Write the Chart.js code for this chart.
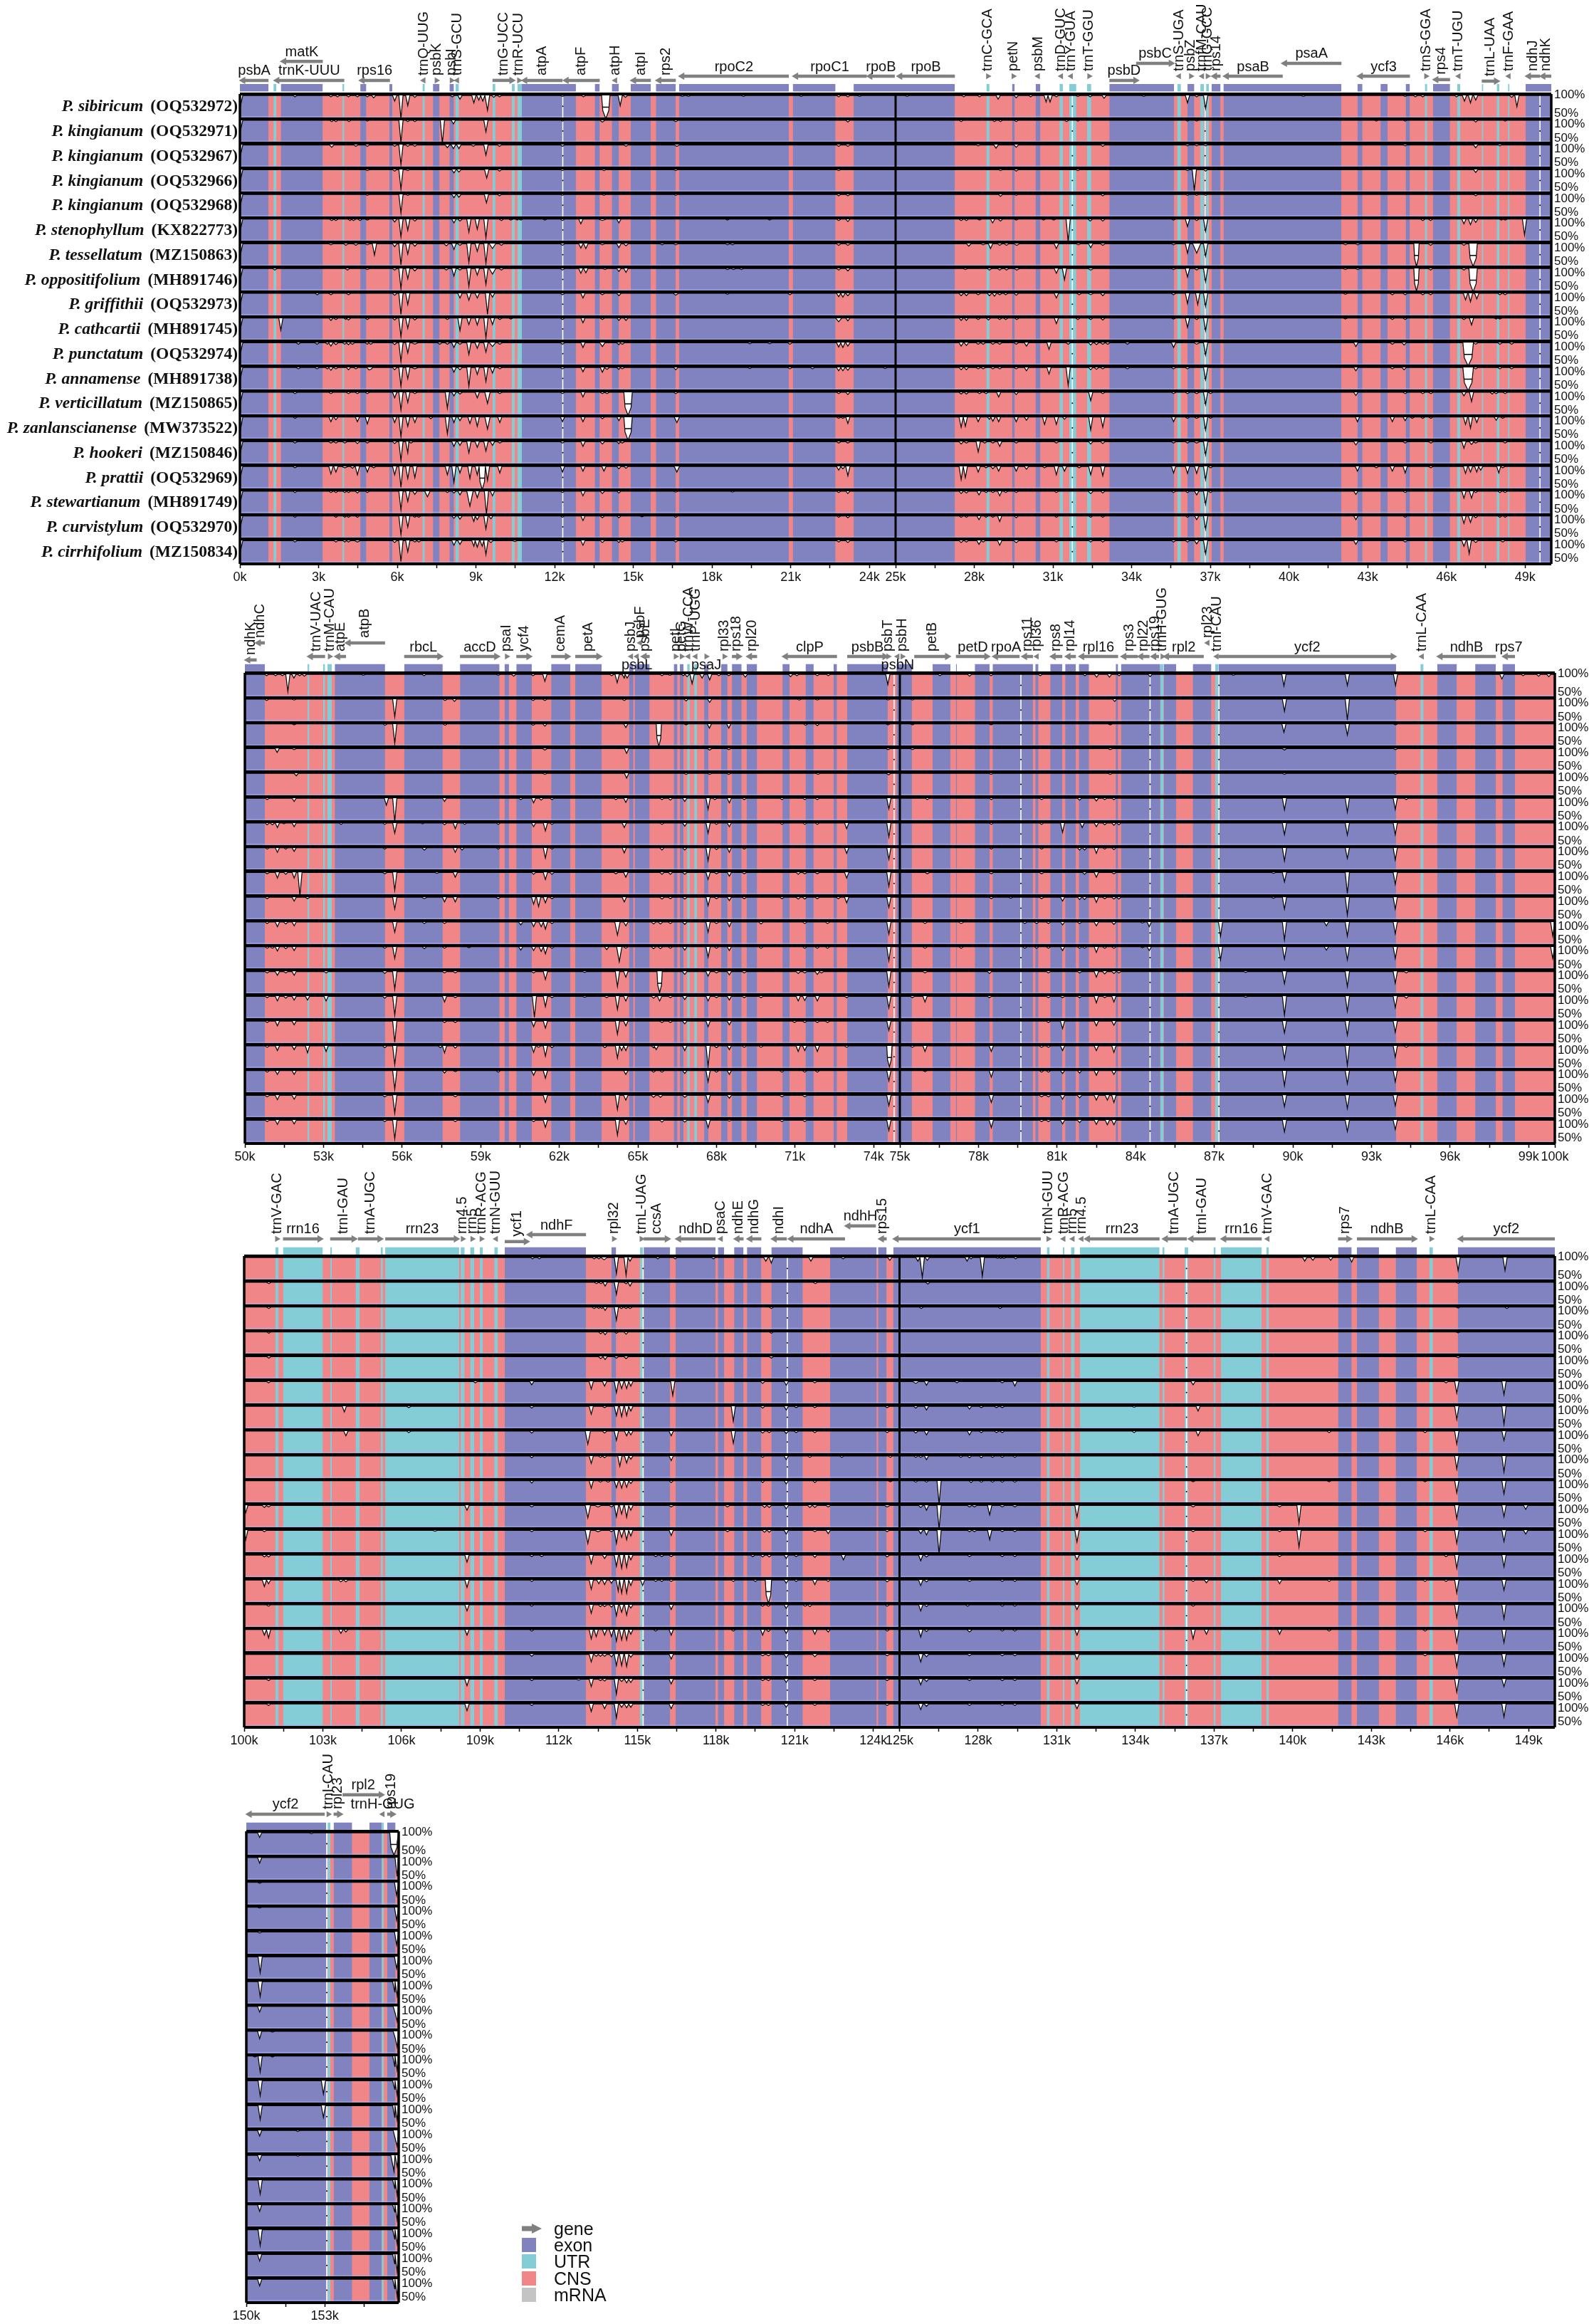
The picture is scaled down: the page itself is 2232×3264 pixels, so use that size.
<!DOCTYPE html>
<html>
<head>
<meta charset="utf-8">
<title>mVISTA plastome identity plot</title>
<script src="https://cdn.jsdelivr.net/npm/chart.js@4/dist/chart.umd.min.js"></script>
<style>
  html, body { margin: 0; padding: 0; background: #fff; }
  #page { position: relative; width: 2232px; height: 3264px; overflow: hidden; }
  canvas { position: absolute; left: 0; }
  .lg { position: absolute; left: 778px; font: 25px "Liberation Sans", sans-serif; color: #111; line-height: 24px; }
  .sw { position: absolute; left: 733px; width: 20px; height: 20px; }
</style>
</head>
<body>
<div id="page"></div>
<script>
// all x values are in kb, identity values in %
const species = ["P. sibiricum","P. kingianum","P. kingianum","P. kingianum","P. kingianum","P. stenophyllum","P. tessellatum","P. oppositifolium","P. griffithii","P. cathcartii","P. punctatum","P. annamense","P. verticillatum","P. zanlanscianense","P. hookeri","P. prattii","P. stewartianum","P. curvistylum","P. cirrhifolium"];
const accessions = ["OQ532972","OQ532971","OQ532967","OQ532966","OQ532968","KX822773","MZ150863","MH891746","OQ532973","MH891745","OQ532974","MH891738","MZ150865","MW373522","MZ150846","OQ532969","MH891749","OQ532970","MZ150834"];

const legendItems = ["exon","UTR","CNS","mRNA"];

// ---- panel 1, 0-50k
const ticks1 = [0,3,6,9,12,15,18,21,24,25,28,31,34,37,40,43,46,49];
const minor1 = [1.5,4.5,7.5,10.5,13.5,16.5,19.5,22.5,26.5,29.5,32.5,35.5,38.5,41.5,44.5,47.5];
const exons1 = [[0,1.09],[1.56,3.16],[4.59,4.82],[5.7,5.81],[7.36,7.61],[7.99,8.16],[10.75,12.81],[13.53,13.72],[14.18,14.45],[14.9,15.67],[15.86,16.62],[16.74,20.93],[21.08,22.71],[23.4,27.26],[29.44,29.54],[30.34,30.52],[33.15,35.62],[36.13,36.39],[37.05,37.39],[37.5,42],[42.61,42.8],[43.49,43.76],[44.45,44.61],[45.49,46.14],[49.02,50]];
const utrs1 = [[1.28,1.39],[3.91,3.98],[6.96,7.05],[8.22,8.35],[9.63,9.74],[10.37,10.48],[10.58,10.75],[28.46,28.58],[31.25,31.38],[31.62,31.89],[32.3,32.46],[35.74,35.88],[36.62,36.76],[36.84,36.95],[45.18,45.27],[46.41,46.53],[47.35,47.41],[47.92,48.02],[48.35,48.41]];
const gaps1 = [12.31,31.74,36.8,49.57];
const dips1 = [
 [[0.03,80],[2.1,97],[3.47,97],[3.72,97],[4.14,97],[4.48,97],[4.86,97],[5.1,95],[5.9,88],[6.14,50],[6.4,78],[6.67,96],[8.1,97],[8.39,92],[8.92,84],[9.11,90],[9.26,88],[9.44,68],[9.68,96],[9.9,97],[12.3,98],[13.1,97],[13.95,50,0.16],[14.5,78],[14.7,96],[16.87,98],[17.1,98],[19.2,98],[21.4,98],[22.83,97],[23.18,97],[23.63,98],[25.44,98],[27.6,97],[28.2,97],[28.91,92],[29.6,95],[30.15,97],[30.74,86],[30.89,86],[31.13,97],[31.95,98],[32.42,97],[32.95,94],[34.46,98],[36.13,84],[36.48,97],[36.82,72],[40.55,98],[44.43,98],[44.82,97],[45.1,97],[46.39,97],[46.69,88],[46.92,84],[47.12,90],[48.49,96],[48.69,76]],
 [[0.03,80],[3.5,97],[3.66,97],[4.16,97],[4.86,98],[6.14,52],[6.4,97],[6.67,97],[7.72,50],[8.14,92],[9.38,75],[12.3,98],[13.82,96,0.1],[16.62,97,0.1],[23.18,96],[27.5,97],[28.77,97],[29,97],[29.6,97],[31.52,97],[31.95,98],[36.13,98],[36.48,98],[43.33,98],[44.43,98],[47.12,96],[48.24,98]],
 [[0.03,80],[3.5,95],[4.42,97],[4.86,97],[5.9,97],[6.14,58],[6.4,97],[6.67,97],[7.91,94],[8.14,92],[8.35,92],[8.9,97],[9.38,78],[9.9,97],[12.3,97],[14.72,97],[16.66,97,0.1],[22.83,97],[23.18,97],[28.15,98],[28.83,93],[29.6,95],[32.9,97],[36.13,98],[36.48,98],[36.82,98],[44.43,98],[47.12,94],[48.04,98]],
 [[0.03,80],[4.86,98],[5.9,97],[6.14,58],[6.4,98],[8.16,93],[8.35,95],[9.41,82],[9.9,97],[12.3,98],[13.88,98],[16.62,98],[22.83,98],[29,98],[29.6,97],[31.95,98],[36.13,98],[36.39,55],[36.82,97],[47.12,94]],
 [[0.03,80],[4.86,98],[6.14,60],[6.4,98],[8.16,93],[8.35,94],[9.4,82],[9.9,97],[12.3,98],[13.88,98],[16.62,98],[22.83,97],[23.18,97],[29,96],[29.6,98],[32.9,97],[36.13,98],[36.48,98],[36.82,98],[47.12,97]],
 [[0.03,80],[3.5,97],[3.66,97],[4.2,97],[4.33,97],[4.58,97],[4.86,98],[5.9,94],[6.14,62],[6.4,76],[6.67,96],[8.16,92],[8.39,96],[8.73,72],[9.05,78],[9.38,60],[9.97,97],[10.33,98],[10.58,98],[10.71,98],[11.63,98],[12.3,97],[13,90],[13.82,97,0.15],[14.45,92],[18.59,98],[20.2,98],[22.83,97],[23.18,95],[27.5,97],[27.7,97],[28.2,98],[28.7,92],[29,96],[29.6,98],[30.64,98],[31.03,98],[31.58,52],[32.42,96],[32.9,96],[35.6,98],[36.13,84],[36.48,97],[36.82,74],[45.1,97],[45.4,97],[46.67,90],[46.92,88],[47.12,93],[48.1,98],[48.24,98],[48.98,66]],
 [[0.03,80],[3.47,98],[4.04,97],[4.42,97],[4.86,98],[5.13,76],[5.9,94],[6.14,55],[6.4,78],[6.67,95],[7.87,96],[8.16,88],[8.39,97],[8.73,60],[9.05,84],[9.38,58],[9.63,90,0.12],[9.97,97],[12.3,97],[13,91],[13.19,90],[13.82,98],[14.45,92],[14.72,96],[16.1,98],[16.62,98],[18.59,98],[18.78,98],[22.83,97],[23.18,97],[27.79,95],[28.34,98],[28.62,90],[28.97,97],[29.23,97],[29.62,97,0.1],[31.13,90],[31.97,98],[32.44,92],[32.9,97],[35.6,98],[36.13,80],[36.48,80,0.15],[36.82,74],[42.15,98],[42.62,98],[44.86,52,0.1],[45.4,97],[46.67,97],[47.02,52,0.16]],
 [[0.03,80],[1.33,97],[4.1,97],[4.86,98],[5.9,97],[6.14,57],[6.4,78],[6.67,95],[7.87,97],[8.16,84],[8.39,97],[8.73,62],[9.05,86],[9.38,66],[9.63,88,0.12],[9.97,97],[12.3,97],[13,90],[13.19,91],[13.92,98],[14.45,94],[14.72,92],[18.59,98],[18.82,98],[19.12,98],[22.83,97],[23.18,95],[27.66,98],[28.58,97],[28.97,97],[29.23,97],[29.62,97,0.1],[31.13,90],[31.44,76],[32.44,97,0.1],[35.6,98],[36.13,82],[36.48,97],[36.82,72],[42.15,98],[42.62,98],[44.86,52,0.1],[45.4,97],[46.67,97],[47.02,50,0.16]],
 [[0.03,80],[2.95,97],[3.47,97],[4.14,97],[5.9,96],[6.14,55],[6.4,76],[8.39,90],[8.73,85],[9.05,90],[9.44,55],[9.63,92],[12.3,97],[13.08,90],[13.82,97],[14.45,95],[16.62,96,0.1],[18.59,98],[20.97,97],[22.83,93],[22.99,92],[23.18,95],[27.5,95],[27.7,95],[28.15,97],[28.58,95],[28.77,94],[28.97,97],[29.2,97],[29.6,96],[31.13,90],[32,97],[32.44,97,0.1],[32.9,95],[35.6,97],[36.13,78],[36.52,76],[36.82,72],[42.15,98],[43.94,97],[44.43,97],[45.1,97],[45.4,97],[46.73,86],[46.92,82],[47.16,88],[48.04,97],[48.24,97]],
 [[0.03,80],[1.56,74],[3.47,95],[3.66,97],[4.04,97],[4.14,96],[4.86,97],[5.9,96],[6.14,60],[6.4,78],[6.67,96],[7.91,97],[8.39,73],[8.73,86],[9.05,85],[9.38,57],[9.63,86],[9.91,97],[10.33,98],[12.3,97],[13.08,90],[13.82,97],[14.45,95],[14.72,95],[22.83,92,0.12],[23.18,94],[27.5,95],[27.7,95],[28.15,97],[28.54,96],[28.97,97],[29.2,97],[29.62,97],[31.13,88],[31.95,97],[32.44,97],[32.9,96],[35.6,98],[36.13,80],[36.48,97],[36.82,73],[42.15,98],[43.94,97],[44.43,97],[46.67,97],[46.96,85],[47.9,98],[48.04,98]],
 [[0.03,80],[2.23,97],[2.94,97],[3.34,97],[3.47,93],[3.66,96],[4,97],[4.14,96],[4.29,97],[4.86,97],[4.99,97],[5.9,96],[6.14,60],[6.4,78],[6.67,97,0.12],[7.62,97],[7.91,97],[8.16,90],[8.39,97],[8.73,75],[9.05,88],[9.38,80],[9.63,92,0.12],[9.91,97],[12.3,97],[13.08,90],[13.82,92,0.1],[14.45,96],[14.58,97],[19.44,98],[20.2,98],[20.97,97],[22.83,91],[22.99,90],[23.18,93],[27.5,93],[27.7,94],[28.15,97],[28.34,97],[28.71,97],[28.97,97],[29.6,97],[29.99,93],[30.85,86],[31.58,97],[32.44,95],[32.66,96],[32.9,97],[33.09,97],[33.84,97],[35.6,90],[36.48,97,0.1],[36.82,74],[42.55,92],[43.94,97],[44.39,95],[46.83,50,0.2],[47.12,97],[48.04,97],[48.49,97]],
 [[0.03,80],[2.23,97],[2.94,97],[3.34,97],[3.47,94],[3.66,97],[4.14,95],[4.42,97],[4.92,95],[4.99,96],[5.9,95],[6.14,60],[6.4,76],[6.67,97,0.12],[8.16,90],[8.39,95],[8.73,60],[9.05,85],[9.38,70],[9.63,88],[9.91,97],[12.3,97],[13.08,91],[13.82,90],[14,96],[14.45,96],[14.58,97],[16.62,95],[19.44,98],[20.97,97],[21.83,97],[22.83,93],[22.99,93],[23.18,94],[24.6,98],[27.5,95],[27.7,95],[28.15,97],[28.34,97],[28.71,97],[28.97,97],[29.6,97],[29.99,93],[30.85,86],[31.58,62],[32.44,95],[32.66,96],[32.9,97],[33.84,97],[35.6,97],[36.13,97],[36.82,74],[42.55,93],[43.94,97],[44.39,95],[46.83,50,0.2],[47.12,97],[48.04,97],[48.49,97]],
 [[0.03,80],[2.1,97],[3.47,97],[4.14,97],[4.48,97],[4.86,97],[5.9,88],[6.14,62],[6.4,78],[6.67,97],[7.91,66,0.08],[8.16,92],[8.39,96],[9.05,88],[9.44,76,0.1],[9.91,97],[12.3,97],[13.08,90],[13.82,97],[14,97],[14.8,50,0.16],[16.62,97],[22.83,97],[23.18,95],[27.5,96],[27.7,96],[28.2,97],[28.45,97],[28.93,90],[29.6,95],[32.44,82],[32.9,97],[35.6,97],[36.13,97],[36.48,97,0.1],[36.82,74],[37.01,97],[42.55,93],[44.43,97],[45.1,97],[45.41,97],[46.67,92],[46.96,80],[47.75,96],[47.9,97],[48.24,97]],
 [[0.03,75],[2.1,97],[3.47,90],[3.66,94],[4.48,90],[4.86,85],[5.9,88],[6.14,58],[6.4,80],[6.67,88],[7.28,96],[7.91,64,0.08],[8.16,88],[8.39,92],[8.77,86],[9.05,80],[9.44,74,0.1],[9.91,88],[12.3,90],[13.08,90],[13.82,96],[14.45,92],[14.8,50,0.16],[16.66,88,0.1],[22.83,97],[22.99,97],[23.18,86],[27.5,78],[27.66,80],[28.15,90],[28.58,95],[28.71,91],[28.93,90],[29.6,90],[29.99,93],[30.68,84],[31.13,84],[31.44,95],[32.44,72],[32.9,78],[35.6,90],[36.13,97],[36.48,97,0.1],[36.82,72],[37.01,97],[42.61,90],[43.94,90],[44.43,92],[44.7,97],[45.1,97],[45.41,97],[46.73,84],[46.92,76],[47.16,88],[47.9,93],[48.15,97]],
 [[0.03,80],[2.1,97],[3.47,97],[3.66,97],[4,97],[4.48,96],[4.86,97],[5.9,96],[6.14,60],[6.4,76],[6.52,97],[8.16,90],[8.39,92],[8.73,76],[9.05,88],[9.38,80],[9.63,92],[9.91,97],[12.3,97],[13.08,90],[13.82,95],[14.45,96],[14.58,97],[22.83,97],[23.18,97],[27.5,95],[27.7,97],[28.15,78],[28.4,97],[28.71,97],[28.97,90],[29.6,97],[31.13,97],[32.44,95],[32.9,96],[35.6,97],[36.13,97],[36.48,97,0.1],[36.82,72],[42.55,93],[44.43,97],[45.41,97],[46.67,86],[46.96,94],[47.12,97],[48.24,97]],
 [[0.03,80],[2.1,97],[3.47,84],[3.66,88],[4,97,0.12],[4.29,96],[4.48,82],[4.86,88],[5.1,97],[5.9,82],[6.14,55],[6.4,74],[6.67,76],[7.91,82],[8.16,66],[8.39,86],[8.77,74],[9.05,82],[9.24,50,0.12],[9.44,70],[9.91,86],[12.3,88],[13.08,90],[13.88,90],[14.45,95],[14.72,96],[16.66,88,0.1],[22.83,92],[22.99,95],[23.18,80],[27.5,72],[27.66,76],[28.15,88],[28.45,97],[28.71,95],[28.93,90],[29.6,90],[29.99,94],[30.68,97],[31.13,82],[31.44,90],[32,97],[32.44,82],[32.9,80],[35.6,86],[36.13,85],[36.48,85],[36.82,72],[37.01,97],[42.61,90],[43.33,97],[43.94,90],[44.43,86],[45.41,97],[46.73,85],[46.92,88],[47.16,88],[47.31,92],[48,86],[48.15,97]],
 [[0.03,80],[2.1,97],[3.47,97],[3.66,97],[4,97],[4.14,97],[4.48,96],[4.86,97],[6.14,60],[6.4,78],[6.67,93],[7.15,88,0.1],[7.91,97],[8.16,96],[8.39,92],[8.77,68,0.12],[9.05,86],[9.4,50],[9.63,90],[12.3,97],[13.08,90],[13.82,95],[14.45,96],[16.62,98],[18.78,98],[22.83,97],[23.18,95],[27.5,95],[27.7,96],[28.18,92],[28.45,97],[28.71,97],[28.97,90],[29.2,97],[29.6,97],[31.13,97],[32.44,95,0.1],[32.9,96],[35.6,97],[36.13,97],[36.48,92],[36.82,72],[37.01,97],[42.55,93],[44.43,97],[46.67,85],[46.96,85],[47.12,97],[48.04,97],[48.24,97]],
 [[0.03,80],[2.1,97],[3.66,97],[4,97],[4.14,97],[4.48,97],[6.14,60],[6.4,76],[6.67,97],[6.82,97],[8.16,95],[8.39,93],[8.92,88],[9.05,92],[9.38,72],[9.57,94],[12.3,97],[13.08,90],[13.82,96],[14.45,96],[15.33,98],[16.62,97],[22.83,97],[23.18,96],[27.5,97],[27.7,97],[28.18,92],[28.45,97],[28.71,97],[28.97,88],[29.6,96],[31.13,97],[32.44,97],[32.9,97],[36.13,97],[36.48,92],[36.82,72],[42.55,92],[44.43,97],[46.67,84],[46.92,86],[47.12,96],[48.04,97],[48.24,97]],
 [[0.03,80],[2.1,97],[3.66,97],[4,97],[4.14,97],[4.48,97,0.1],[5.9,96],[6.14,55],[6.4,76],[6.67,97],[6.82,97],[8.16,90],[8.39,92],[8.92,88],[9.05,86],[9.24,88],[9.38,70],[9.57,96],[10.48,98],[12.3,97],[13.08,90],[13.82,96],[14.45,96],[14.58,97],[16.62,97],[22.83,97],[23.18,96],[27.5,96],[27.7,97],[28.18,92],[28.34,97],[28.97,90],[29.6,96,0.1],[31.13,97],[32.44,97],[32.9,97],[35.6,97],[36.13,97],[36.48,93],[36.82,72],[42.55,92],[44.43,97],[46.67,88],[46.87,72],[47.12,96],[48.15,97]]
];
const genes1 = [
 ["psbA",0,1.09,-1,"h",-0.55],["trnK-UUU",1.3,3.98,-1,"h",-0.55],["matK",1.56,3.16,-1,"h",-1.32],["rps16",4.55,5.72,-1,"h",-0.55],
 ["trnQ-UUG",6.96,7.05,-1,"v",-0.55],["psbK",7.36,7.63,1,"v",-0.55],["psbI",8,8.14,1,"v",-0.55],["trnS-GCU",8.22,8.35,-1,"v",-0.55],
 ["trnG-UCC",9.63,10.48,1,"v",-0.55],["trnR-UCU",10.58,10.7,1,"v",-0.55],["atpA",10.75,12.3,-1,"v",-0.55],["atpF",12.33,13.72,-1,"v",-0.55],
 ["atpH",14.18,14.45,-1,"v",-0.55],["atpI",14.9,15.67,-1,"v",-0.55],["rps2",15.86,16.62,-1,"v",-0.55],["rpoC2",16.74,20.93,-1,"h",-0.72],
 ["rpoC1",21.08,23.9,-1,"h",-0.72],["rpoB",23.91,24.97,-1,"h",-0.72],["rpoB",25.05,27.26,-1,"h",-0.72],["trnC-GCA",28.46,28.58,1,"v",-0.72],
 ["petN",29.44,29.54,1,"v",-0.72],["psbM",30.34,30.52,-1,"v",-0.72],["trnD-GUC",31.25,31.38,-1,"v",-0.72],["trnY-GUA",31.62,31.76,-1,"v",-0.72],
 ["trnT-GGU",32.3,32.46,1,"v",-0.72],["psbD",33.15,34.27,1,"h",-0.55],["psbC",34.17,35.62,1,"h",-1.24],["trnS-UGA",35.74,35.88,-1,"v",-0.72],
 ["psbZ",36.13,36.39,1,"v",-0.72],["trnfM-CAU",36.62,36.76,-1,"v",-0.72],["trnG-GCC",36.84,36.95,1,"v",-0.72],["rps14",37.05,37.39,-1,"v",-0.72],
 ["psaB",37.5,39.76,-1,"h",-0.72],["psaA",39.72,42,-1,"h",-1.24],["ycf3",42.61,44.61,-1,"h",-0.72],["trnS-GGA",45.18,45.27,1,"v",-0.72],
 ["rps4",45.49,46.14,-1,"v",-0.58],["trnT-UGU",46.41,46.53,-1,"v",-0.72],["trnL-UAA",47.35,48.02,1,"v",-0.52],["trnF-GAA",48.35,48.41,-1,"v",-0.72],
 ["ndhJ",49.02,49.57,-1,"v",-0.72],["ndhK",49.57,50,-1,"v",-0.72]
];

// ---- panel 2, 50-100k
const ticks2 = [50,53,56,59,62,65,68,71,74,75,78,81,84,87,90,93,96,99,100];
const minor2 = [51.5,54.5,57.5,60.5,63.5,66.5,69.5,72.5,76.5,79.5,82.5,85.5,88.5,91.5,94.5,97.5];
const exons2 = [[50,50.76],[53.43,55.35],[56.08,57.55],[58.21,59.72],[59.91,60.08],[60.36,60.95],[61.69,62.42],[62.61,63.62],[64.66,64.83],[64.88,65.45],[66.37,66.51],[66.6,66.74],[67.53,67.69],[68.18,68.42],[68.59,68.96],[69.15,69.55],[70.52,70.79],[71.4,71.71],[72.47,72.6],[72.99,74.54],[74.87,75.46],[76.25,76.93],[77.14,77.18],[77.86,78.43],[78.54,80.08],[80.17,80.29],[80.74,81.2],[81.31,81.72],[81.83,82.22],[83.24,83.33],[83.44,84.94],[85.07,85.55],[86.18,86.89],[87.16,93.94],[95.51,96.26],[96.96,97.75],[98,98.48]];
const utrs2 = [[52.39,52.46],[52.98,53.06],[53.15,53.32],[66.88,66.98],[67.15,67.26],[84.94,85.07],[87.03,87.16],[94.87,94.99]];
const gaps2 = [74.78,79.62,84.55,87.18];
const dips2 = [
 [[50.83,97],[51.17,97],[51.43,97],[51.64,63],[51.87,92],[52.09,97],[52.27,96],[54.52,98],[56.84,97],[59.67,98],[60.26,96],[61,97],[61.45,85],[64,97],[64.21,82],[64.48,92],[64.59,92],[65.92,97],[66.22,98],[66.74,97],[66.88,95],[67.07,80],[67.45,92],[67.74,88],[68.09,97],[68.47,97],[69.1,94],[70.83,95],[71.07,97],[71.85,97],[72.27,97],[74.54,78],[76.53,97],[77.66,96],[78.48,97],[80.36,97],[82.06,97],[82.51,94],[83,94],[83.37,97],[84.55,95],[87.73,98],[89.66,75],[92.08,76],[93.92,76],[97.98,90],[98.79,97],[99.38,96],[99.77,95]],
 [[50.83,97],[51.88,98],[55.72,62],[57.64,97],[58,95],[61,97],[61.45,97],[64.48,97],[66.84,96],[67.74,93],[71.16,98],[71.85,98],[74.55,98],[75.48,98],[83.2,95],[89.68,74],[92.08,55],[93.92,98]],
 [[51.88,98],[55.35,97],[55.72,58],[57.64,97],[61,97],[61.45,95],[64.54,92],[65.8,52,0.1],[66.84,98],[67.73,91],[68.47,91],[71.4,97],[71.85,96],[74.55,98],[75.48,98],[78.48,98],[83.03,98],[89.66,82],[92.08,76],[93.92,98]],
 [[51.23,92],[51.88,98],[61.45,97],[64.57,90],[67.74,97],[68.47,98],[74.55,98],[75.48,98],[83.03,98],[89.68,97],[93.92,98]],
 [[51.96,95,0.08],[61.45,98],[64.57,90],[66.84,98],[67.74,98],[68.47,98],[71.88,98],[74.57,97],[78.48,98],[83.03,98],[89.68,98],[93.92,98]],
 [[50.85,97],[51.88,93],[55.4,85],[55.72,50],[57.62,93],[60.53,97],[61.02,90],[61.31,96],[61.72,97],[64.16,97],[64.54,91],[65.92,97],[66.24,96],[66.79,93],[67.68,76],[67.94,97],[68.49,90],[69.06,97],[70.5,97],[71.37,97],[71.85,97],[74.58,77],[76.05,97],[78.49,97],[80.41,97],[81.86,96],[82.5,94],[82.82,97],[83.17,97],[89.68,75],[92.08,70],[93.91,76],[94.33,97]],
 [[50.85,96],[51.05,96],[51.24,90],[51.49,98],[51.88,92],[53.67,97],[55.34,97],[55.72,78],[56.78,98],[57.62,96],[58.03,88],[58.39,97],[59.67,97],[61.02,92],[61.47,83],[61.72,97],[64.48,90],[65.92,97],[66.79,93],[67.68,78],[68,97],[68.49,92],[70.5,97],[71.37,97],[71.85,97],[72.97,88],[74.58,70],[78.49,97],[80.41,97],[81.21,80],[81.96,90],[82.5,92],[82.82,96],[83.17,95],[83.36,96],[89.68,75],[92.08,74],[93.91,75]],
 [[50.85,97],[51.24,90],[51.56,97],[51.88,92],[55.34,97],[56.85,95,0.1],[58.03,90],[58.29,95],[59.67,97],[61.47,78],[61.72,97],[64.48,89],[65.92,95],[66.79,95],[67.68,72],[68,96],[68.49,90],[69.06,97],[72.97,88],[74.58,75],[78.49,97],[80.41,97],[81.86,95],[82.05,95],[82.5,88],[82.82,97],[83.17,96],[89.68,72],[92.08,77],[93.91,74]],
 [[50.85,97],[51.24,88],[51.56,96],[51.88,88],[52.1,50,0.08],[55.34,97],[55.72,62],[57.33,98],[58.03,90],[61.02,96],[61.47,85],[61.72,96],[64.16,97],[64.54,90],[65.92,96],[66.24,96],[66.79,96],[67.68,85],[68,97],[68.49,92],[69.06,97],[71.12,96],[71.37,97],[71.85,97],[72.97,88],[74.58,70],[76.05,97],[78.49,97],[80.41,97],[82.05,96],[82.5,90],[83.17,97],[89.26,98],[89.68,80],[92.08,55],[93.91,75]],
 [[50.85,97],[51.88,92],[52.39,97],[55.72,75],[56.85,97,0.1],[57.62,90],[58.03,90],[59.67,97],[61.02,85],[61.21,80],[61.47,88],[61.72,97],[64.48,90],[65.92,96],[66.24,97],[66.79,96],[67.68,82],[68,97],[68.49,93],[69.06,97],[70.5,97],[71.12,96],[71.37,96],[71.85,97],[72.65,97],[72.97,88],[74.58,78],[78.49,97],[79.23,98],[80.41,97],[81.21,92],[81.86,95],[82.05,95],[82.5,89],[82.82,97],[83.17,96],[83.36,96],[89.26,98],[89.68,75],[92.08,62],[93.91,75]],
 [[50.85,97],[51.24,90],[51.56,96],[51.88,92],[55.72,78],[56.85,97],[57.62,97],[60.53,94],[61.02,90],[61.31,90],[61.47,85],[61.72,97],[64.22,72,0.1],[64.54,92],[65.6,96],[65.86,96],[66.24,97],[66.79,95],[67.68,78],[68,97],[68.49,90],[69.7,96],[71.37,97],[72.24,97],[74.58,74],[75.96,97],[77.34,97,0.1],[79.77,97],[80.22,97],[80.67,97],[81.21,94],[81.86,97],[82.5,92],[83.17,95],[84.26,98],[84.52,90],[87.24,70],[89.68,62],[91.28,92],[92.08,70],[93.91,75],[99.92,70]],
 [[50.85,97],[51.05,97],[51.24,91],[51.56,96],[51.88,92],[55.34,97],[55.72,75],[56.85,96],[57.62,97],[58.55,98],[60.53,93],[61.02,92],[61.31,90],[61.47,85],[61.72,97],[63.81,94],[64.29,68,0.1],[64.54,97],[65.6,96],[65.86,96],[66.24,97],[66.79,93],[67.68,78],[68,97],[68.49,92],[69.7,97],[71.37,97],[71.85,97],[72.24,97],[74.58,70],[75.96,97],[77.34,97],[79.77,97],[80.22,97],[80.67,97],[81.21,92],[81.86,97],[82.05,97],[82.5,88],[82.82,97],[83.17,97],[84.26,98],[84.52,92],[87.24,72],[89.68,74],[91.28,93],[92.08,72],[93.91,75],[99.92,75]],
 [[50.85,97],[51.24,92],[51.56,97],[51.88,92],[53.1,97],[55.34,96],[55.72,62],[57.62,97],[58.03,97],[61.02,97],[61.47,83],[62.97,98],[64.22,68],[64.54,88],[65.83,55,0.1],[66.79,94],[67.68,90],[68,97],[68.49,93],[69.06,97],[71.12,96],[71.37,97],[71.85,94],[72.01,97],[74.58,68],[75.96,97],[78.42,96],[80.67,97],[81.86,97],[82.5,88],[82.82,95],[83.17,96],[83.36,97],[88.2,98],[89.68,74],[92.08,68],[93.91,75],[94.33,97]],
 [[50.85,97],[51.24,90],[51.56,96],[51.88,92],[52.39,92],[53.1,90],[55.34,96],[55.72,60],[57.62,88],[58.03,97],[61.05,55],[61.47,78],[61.72,97],[62.97,98],[63.81,97],[64.22,72],[64.54,90],[65.6,96],[65.83,90],[66.24,97],[66.79,93],[67.68,90],[68,97],[68.49,92],[69.06,97],[69.7,97],[71.12,90],[71.37,91],[71.85,90],[72.97,97],[74.58,75],[75.48,97],[75.96,88],[78.42,97],[80.67,97],[81.21,97],[81.86,97],[82.5,86],[82.82,97],[83.17,88],[88.2,98],[89.68,60],[92.08,68],[93.91,76],[94.33,96]],
 [[50.85,97],[51.24,90],[51.88,92],[55.72,55],[57.62,97],[58.03,97],[61.02,88],[61.47,85],[64.22,72],[64.54,90],[65.92,97],[66.24,97],[66.79,94],[67.68,88],[68.49,92],[70.98,97],[71.37,97],[71.85,97],[72.24,97],[74.58,80],[80.67,97],[81.21,84],[82.5,90],[83.17,91],[89.68,75],[92.08,70],[93.91,76]],
 [[50.85,97],[51.24,90],[51.88,92],[52.39,85],[53.1,88],[55.34,96],[55.72,60],[57.46,96],[57.62,85],[58.03,95],[61.02,86],[61.21,97],[61.47,78],[61.72,96],[63.74,96],[64.22,74],[64.38,90],[64.54,90],[65.6,96],[65.7,92],[66.79,90],[67.68,56],[68,96],[68.49,92],[69.06,97],[69.7,97],[71.12,88],[71.37,90],[71.85,88],[72.97,97],[74.6,55,0.1],[75.48,97],[75.96,88],[78.49,88],[80.41,97],[80.67,97],[81.21,90],[82.5,90],[83.17,86],[89.68,72],[92.08,58],[93.91,76],[94.33,97]],
 [[50.85,97],[51.24,92],[51.88,92],[55.72,60],[57.62,95],[58.03,98],[59.67,97],[61.02,90],[61.47,84],[64.54,92],[65.6,97],[65.92,97],[66.79,94],[67.68,76],[68,97],[68.49,92],[70.5,97],[71.37,97],[71.85,97],[74.58,78],[75.96,98],[78.49,86],[80.41,97],[80.67,97],[81.21,94],[81.86,95],[82.5,90],[83.17,92],[89.68,68],[92.08,72],[93.91,76]],
 [[50.85,97],[51.24,91],[51.88,92],[55.34,97],[55.72,62],[58.03,97],[61.47,85],[64.22,70],[64.54,90],[65.6,96],[65.86,96],[66.79,96],[67.68,85],[68.49,94],[70.5,97],[71.37,97],[74.58,78],[78.49,85],[80.41,97],[80.67,97],[81.21,92],[81.86,95],[82.5,90],[82.92,90],[83.17,85],[89.68,76],[92.08,72],[93.91,78]],
 [[50.85,97],[51.24,91],[51.88,92],[55.34,97],[55.72,60],[58.03,97],[61.02,97],[61.47,85],[64.22,68],[64.54,91],[65.92,96],[66.79,96],[67.68,84],[68.49,98],[70.5,97],[71.37,97],[74.58,78],[78.49,84],[80.41,97],[80.67,97],[81.21,92],[81.86,95],[82.5,91],[82.92,90],[83.17,90],[89.68,75],[92.08,76],[93.91,80]]
];
const genes2 = [
 ["ndhK",50,50.45,-1,"v",-0.52],["ndhC",50.4,50.76,-1,"v",-1.21],["trnV-UAC",52.39,53.06,-1,"v",-0.66],["trnM-CAU",53.15,53.32,1,"v",-0.66],
 ["atpE",53.43,53.86,-1,"v",-0.66],["atpB",53.83,55.35,-1,"v",-1.21],["rbcL",56.08,57.55,1,"h",-0.66],["accD",58.21,59.72,1,"h",-0.66],
 ["psaI",59.91,60.08,1,"v",-0.66],["ycf4",60.36,60.95,1,"v",-0.66],["cemA",61.69,62.42,1,"v",-0.66],["petA",62.61,63.62,1,"v",-0.66],
 ["psbJ",64.66,64.83,-1,"v",-0.66],["psbL",64.88,65.05,-1,"b",-0.66],["psbF",65,65.18,-1,"v",-1.21],["psbE",65.13,65.45,-1,"v",-0.66],
 ["petL",66.37,66.51,1,"v",-0.66],["petG",66.6,66.74,1,"v",-0.66],["trnW-CCA",66.88,66.98,-1,"v",-0.66],["trnP-UGG",67.15,67.26,-1,"v",-0.66],
 ["psaJ",67.53,67.69,1,"b",-0.66],["rpl33",68.18,68.42,1,"v",-0.66],["rps18",68.59,68.96,1,"v",-0.66],["rpl20",69.15,69.55,-1,"v",-0.66],
 ["clpP",70.52,72.6,-1,"h",-0.66],["psbB",72.99,74.54,1,"h",-0.66],["psbT",74.51,74.6,1,"v",-0.66],["psbN",74.87,74.96,-1,"b",-0.66],
 ["psbH",75.05,75.14,1,"v",-0.66],["petB",75.55,76.93,1,"v",-0.66],["petD",77.14,78.43,1,"h",-0.66],["rpoA",78.54,79.57,-1,"h",-0.66],
 ["rps11",79.65,80.08,-1,"v",-0.66],["rpl36",80.17,80.29,-1,"v",-0.66],["rps8",80.74,81.2,-1,"v",-0.66],["rpl14",81.31,81.72,-1,"v",-0.66],
 ["rpl16",81.83,83.33,-1,"h",-0.66],["rps3",83.44,84.08,-1,"v",-0.66],["rpl22",84.08,84.53,-1,"v",-0.66],["rps19",84.58,84.89,-1,"v",-0.66],
 ["trnH-GUG",84.97,85.07,1,"v",-0.66],["rpl2",85.07,86.6,-1,"h",-0.66],["rpl23",86.6,86.9,-1,"v",-1.21],["trnI-CAU",87.03,87.16,-1,"v",-0.66],
 ["ycf2",87.16,93.94,1,"h",-0.66],["trnL-CAA",94.87,94.99,-1,"v",-0.66],["ndhB",95.51,97.75,-1,"h",-0.66],["rps7",98,98.48,-1,"h",-0.66]
];

// ---- panel 3, 100-150k
const ticks3 = [100,103,106,109,112,115,118,121,124,125,128,131,134,137,140,143,146,149];
const minor3 = [101.5,104.5,107.5,110.5,113.5,116.5,119.5,122.5,126.5,129.5,132.5,135.5,138.5,141.5,144.5,147.5];
const exons3 = [[109.94,113.04],[114.01,114.19],[115.24,116.25],[116.46,117.98],[118.07,118.31],[118.69,119.05],[119.18,119.73],[120.11,121.31],[122.35,124.13],[124.18,124.51],[124.76,130.39],[141.73,142.25],[142.45,143.29],[143.93,144.74],[146.3,150]];
const utrs3 = [[101.19,101.31],[101.48,103],[103.28,103.35],[104.25,104.41],[105.21,105.29],[105.38,108.2],[108.26,108.41],[108.62,108.78],[108.99,109.11],[109.54,109.68],[115.1,115.21],[130.62,130.73],[131.23,131.29],[131.54,131.68],[131.88,134.92],[135.03,135.11],[135.88,136.01],[136.98,137.06],[137.26,138.82],[139,139.09],[145.22,145.35]];
const gaps3 = [115.22,120.72,135.95];
const dips3 = [
 [[111,97],[111.26,97],[113.35,97],[113.53,97],[113.73,95,0.12],[114.2,65],[114.57,62],[114.72,92],[115.78,97],[116.44,97],[117.9,97],[119.9,92],[120.11,88],[121.62,92],[122.85,97],[124.63,94],[125.7,92],[125.87,57],[126.06,94],[127.58,92],[127.73,97],[128.16,60],[128.75,98],[128.87,98],[128.98,98],[129.43,97],[140.46,92],[140.77,94],[141.45,94],[142.25,90],[146.31,72],[148.1,72]],
 [[100.94,97],[113.44,97],[113.61,97],[113.77,92],[114.2,74],[114.57,97],[114.72,92],[121.79,97],[126.08,96],[146.31,98]],
 [[100.94,97],[113.35,97],[113.53,97],[113.65,97],[113.77,93],[114.2,72],[114.39,97],[114.57,97],[114.72,97],[120.11,97],[125.83,97],[128.84,97],[146.31,98],[148.17,97]],
 [[100.94,97],[113.6,96],[113.77,94],[114.2,97],[114.57,95],[120.11,97],[146.31,98]],
 [[100.94,97],[113.6,96],[113.77,94],[114.2,97],[114.57,96],[120.11,97],[146.31,98]],
 [[100.93,97],[108.82,97],[110.97,93],[113.24,84],[113.75,90],[114.2,76],[114.4,85],[114.59,85],[114.75,90],[116.35,70],[119.78,96],[120.68,92],[121.77,97],[125.62,96,0.12],[126.03,92],[127.19,97],[128.92,97],[129.4,90],[136.2,93],[145.85,97],[146.26,75],[148.06,72]],
 [[103.82,88],[106.28,97],[110.97,96],[113.24,83],[113.75,97],[114.2,80],[114.4,78],[114.59,80],[114.75,90],[118.66,68],[119.78,96],[120.68,92],[121.06,97],[121.77,97],[124.53,97],[125.62,96],[126.03,92],[127.67,94],[128.12,97],[128.7,97],[128.92,97],[133.95,98],[136.39,90],[146.26,72],[148.06,62]],
 [[103.88,90],[106.28,97],[110.97,96],[113.11,72,0.1],[113.75,96],[114.2,80],[114.59,90],[114.75,92],[116.29,90],[118.66,74],[119.78,96],[120.03,97],[120.68,95],[121.06,97],[121.77,97],[124.53,97],[125.62,96],[126.03,92],[127.67,92],[128.12,97],[128.7,97],[128.92,97],[133.95,97],[136.39,90],[141.39,97],[145.05,97],[146.26,72],[148.06,80]],
 [[110.97,96],[113.24,84],[113.59,97],[113.75,96],[114.33,78],[114.59,85],[114.75,93],[116.29,90],[119.78,97],[120.68,92],[121.58,97],[122.8,97],[124.65,97],[125.62,97],[125.81,97],[126.03,92],[127.34,97],[127.67,96],[128.12,96],[128.55,97],[128.92,97],[129.4,97],[146.26,72],[148.06,66]],
 [[110.97,95],[113.24,84],[113.59,97],[113.88,97],[114.2,85],[114.4,84],[114.59,86],[114.75,94],[116.29,96],[119.78,96],[120.68,93],[121.77,96],[124.65,98],[125.62,97],[126.03,97],[126.51,50,0.08],[127.73,96],[128.12,97],[128.55,97],[128.92,97],[129.4,97],[136.2,98],[141.39,98],[145.05,98],[146.26,74],[148.06,72]],
 [[100.06,85],[100.77,96],[100.93,97],[108.5,90],[110.97,97],[113.11,74,0.1],[113.5,97,0.12],[114.01,97],[114.2,76],[114.4,82],[114.59,75],[114.75,90],[116.29,97],[118.44,97],[119.85,96],[120.03,96],[120.68,93],[121.58,96],[121.77,96],[122.28,97],[124.53,97,0.1],[125.81,96],[126.03,90],[126.51,50,0.08],[127.67,97],[127.86,97],[128.44,80],[128.92,97],[129.4,97],[131.77,75],[136.2,97],[139.5,97],[140.24,62],[146.26,72],[148.06,76],[148.89,92]],
 [[100.06,80],[100.77,97],[107.28,98],[110.97,97],[113.11,72,0.1],[113.5,97,0.12],[114.01,97],[114.2,72],[114.4,85],[114.59,80],[114.75,88],[116.29,89],[118.44,97],[119.85,96],[120.03,96],[120.68,92],[121.77,97],[122.28,93],[124.53,97],[125.81,93],[126.03,90],[126.51,50,0.08],[127.67,97],[127.86,97],[128.44,80],[128.92,97],[129.4,97],[131.77,75],[136.2,97],[139.5,97],[140.24,64],[145.05,97],[146.26,72],[148.06,76],[148.89,92]],
 [[100.77,96],[100.93,96],[108.5,85],[110.97,97],[111.35,97],[113.24,82],[113.75,93],[114.2,76],[114.4,72],[114.59,74],[114.75,90],[115.7,97],[115.93,97],[116.29,97],[119.4,97],[119.78,96],[120.03,96],[120.68,93],[121.06,97],[121.77,95],[122.86,90],[124.53,96],[125.81,88],[126.03,96],[127.67,97],[128.92,97],[129.4,97],[131.77,90],[139.5,97],[145.85,97],[146.26,72],[148.06,75]],
 [[100.77,86],[100.93,92],[103.69,96],[103.88,96],[108.5,84],[110.97,97],[113.24,80],[113.53,92],[113.75,90],[114.01,93],[114.27,76],[114.4,72],[114.59,72],[114.75,88],[115.2,88],[115.7,97],[115.93,97],[116.29,97],[118.66,97],[119.5,97],[120,50,0.12],[120.68,93],[121.06,97],[121.77,90],[122.28,97],[124.53,96],[125.81,88],[126.03,96],[127.67,97,0.1],[128.92,97],[129.4,97],[131.77,90],[136.2,97],[136.71,94],[139.5,92],[141.39,97],[145.05,97],[145.85,97],[146.26,72],[148.06,78]],
 [[100.93,97],[108.5,87],[110.97,97,0.08],[113.24,82],[113.59,96],[113.75,96],[114.01,95],[114.2,76],[114.4,84],[114.59,78],[114.75,93],[116.29,90],[119.78,97],[120,97],[120.68,92],[121.4,97],[121.58,96],[124.53,97],[125.81,87],[126.03,96],[127.6,97],[128.92,97],[129.4,97],[131.77,90],[136.2,97],[146.26,72],[148.06,70]],
 [[100.77,88],[100.93,82],[103.69,92],[103.88,95],[108.5,88],[110.97,97],[113.24,80],[113.43,85],[113.75,88],[114.01,85],[114.2,75],[114.4,78],[114.59,78],[114.75,90],[115.7,97],[116.29,88],[118.66,97],[119.78,88],[120,96],[120.68,92],[121.77,90],[122.28,95],[124.53,97],[125.81,84],[126.03,96],[127.67,95,0.1],[128.92,97],[129.4,97],[131.77,88],[136.2,80],[136.71,90],[139.5,90],[141.39,97],[145.05,97],[146.26,72],[148.06,72]],
 [[110.97,96],[113.24,84],[113.43,96],[113.59,96],[113.75,96],[114.01,95],[114.2,76],[114.4,76],[114.59,74],[114.75,94],[116.29,90],[119.78,97],[120,97],[120.68,93],[121.77,95],[124.53,97],[125.81,84],[126.03,95],[127.67,97],[128.92,97],[129.4,97],[131.77,89],[145.05,97],[146.26,72],[148.06,75]],
 [[100.93,97],[108.5,86],[110.97,97],[112.76,98],[113.24,84],[113.59,97],[113.75,96],[114.2,68],[114.4,95],[114.59,92],[114.75,93],[116.29,90],[119.78,97],[120,97],[120.68,93],[121.77,97],[124.53,97],[125.81,88],[126.03,95],[127.67,97],[128.92,97],[129.4,97],[131.77,90],[146.26,72],[148.06,84]],
 [[100.93,97],[108.5,86],[110.97,97],[113.24,84],[113.75,90],[114.2,70],[114.4,93],[114.59,92],[114.75,93],[116.29,90],[119.78,97],[120,97],[120.68,93],[121.77,97],[124.53,97],[125.81,88],[126.03,95],[127.67,97],[128.92,97],[129.4,97],[131.77,90],[146.26,72],[148.06,72]]
];
const genes3 = [
 ["trnV-GAC",101.19,101.31,1,"v",-0.69],["rrn16",101.48,103,1,"h",-0.69],["trnI-GAU",103.28,104.3,1,"v",-0.69],["trnA-UGC",104.34,105.29,1,"v",-0.69],
 ["rrn23",105.38,108.2,1,"h",-0.69],["rrn4.5",108.26,108.41,1,"v",-0.69],["rrn5",108.62,108.78,1,"v",-0.69],["trnR-ACG",108.99,109.11,1,"v",-0.69],
 ["trnN-GUU",109.54,109.68,-1,"v",-0.69],["ycf1",109.94,110.87,1,"v",-0.58],["ndhF",110.79,113.04,-1,"h",-0.86],["rpl32",114.01,114.19,1,"v",-0.69],
 ["trnL-UAG",115.1,115.21,1,"v",-0.69],["ccsA",115.24,116.25,1,"v",-0.69],["ndhD",116.46,117.98,-1,"h",-0.69],["psaC",118.07,118.31,-1,"v",-0.69],
 ["ndhE",118.69,119.05,-1,"v",-0.69],["ndhG",119.18,119.73,-1,"v",-0.69],["ndhI",120.11,120.7,-1,"v",-0.69],["ndhA",120.75,122.92,-1,"h",-0.69],
 ["ndhH",122.92,124.1,-1,"h",-1.21],["rps15",124.2,124.51,-1,"v",-0.69],["ycf1",124.76,130.39,-1,"h",-0.69],["trnN-GUU",130.62,130.73,1,"v",-0.69],
 ["trnR-ACG",131.23,131.29,-1,"v",-0.69],["rrn5",131.54,131.68,-1,"v",-0.69],["rrn4.5",131.88,132.02,-1,"v",-0.69],["rrn23",132.06,134.92,-1,"h",-0.69],
 ["trnA-UGC",135.03,135.96,-1,"v",-0.69],["trnI-GAU",136.01,137.06,-1,"v",-0.69],["rrn16",137.26,138.82,-1,"h",-0.69],["trnV-GAC",139,139.09,-1,"v",-0.69],
 ["rps7",141.73,142.25,1,"v",-0.69],["ndhB",142.45,144.74,1,"h",-0.69],["trnL-CAA",145.22,145.35,1,"v",-0.69],["ycf2",146.3,150,-1,"h",-0.69]
];

// ---- panel 4, 150-155.8k
const ticks4 = [150,153];
const minor4 = [151.5,154.5];
const exons4 = [[150,153.06],[153.34,154.05],[154.71,155.18],[155.39,155.71]];
const utrs4 = [[153.11,153.22],[155.18,155.26]];
const gaps4 = [153.08];
const dips4 = [
 [[150.51,90],[152.49,98],[155.65,52,0.16],[155.77,80]],
 [[150.51,88],[155.77,60]],
 [[150.51,98],[155.75,72]],
 [[150.51,98],[155.75,72]],
 [[150.51,98],[155.75,72]],
 [[150.53,66],[155.75,75]],
 [[150.53,68],[155.68,78],[155.77,70]],
 [[150.51,88],[155.7,85],[155.77,68]],
 [[150.51,84],[151,98],[155.7,85],[155.77,66]],
 [[150.33,98],[150.53,66],[151,98],[155.68,78],[155.77,70]],
 [[150.53,68],[152.95,72],[155.68,82],[155.77,70]],
 [[150.53,70],[152.95,75],[155.68,75],[155.77,70]],
 [[150.51,88],[151.97,98],[155.7,82],[155.77,66]],
 [[150.51,88],[151.97,98],[155.65,66,0.12],[155.77,76]],
 [[150.53,70],[155.68,82],[155.77,68]],
 [[150.51,86],[155.68,85],[155.77,68]],
 [[150.53,66],[155.68,80],[155.77,70]],
 [[150.51,86],[155.68,80],[155.77,64]],
 [[150.51,86],[155.68,80],[155.77,64]]
];
const genes4 = [
 ["ycf2",150,153,-1,"h",-0.69],["trnI-CAU",153.06,153.22,1,"v",-0.69],["rpl23",153.34,153.68,1,"v",-0.69],["rpl2",153.68,155.27,1,"h",-1.47],
 ["trnH-GUG",155.18,155.26,-1,"h",-0.69],["rps19",155.39,155.71,1,"v",-0.69]
];

const exonColor = "#8083BF", utrColor = "#84CDD6", cnsColor = "#F08688", mrnaColor = "#C4C4C4", geneColor = "#808080";
const rowCount = species.length;
const pctWidth = 50, axisHeight = 48, dipHalf = 0.08;
const labelFont = '"Liberation Sans", Arial, sans-serif';

// maps identity onto row space, row r runs from r to r + 1
function rowY(r, id) { return r + 0.06 + (100 - id) / 50 * 0.94; }

function rangePoints(ranges, y) {
  const pts = [];
  ranges.forEach(function (r) {
    pts.push({ x: r[0], y: y }, { x: r[1], y: y }, { x: r[1], y: null });
  });
  return pts;
}

function fillSet(ranges, color, y, toY) {
  return { data: rangePoints(ranges, y), borderWidth: 0, borderColor: "transparent", backgroundColor: color, fill: { value: toY }, pointRadius: 0 };
}

// one vistaplot curve: flat at the top with a notch per dip
function curveSet(r, dips, xMin, xMax) {
  const top = rowY(r, 100);
  const pts = [{ x: xMin, y: top }];
  dips.slice().sort(function (a, b) { return a[0] - b[0]; }).forEach(function (d) {
    const hw = d[2] || dipHalf;
    let last = pts[pts.length - 1];
    if (last.x >= d[0] - hw && last.y === top && pts.length > 1) { pts.pop(); last = pts[pts.length - 1]; }
    if (d[0] <= last.x) return;
    if (d[0] - hw > last.x) pts.push({ x: d[0] - hw, y: top });
    // the broad deep gaps keep their width for most of the way down
    const broad = d[2] >= 0.1 && d[1] <= 60;
    const shoulder = rowY(r, 100 - (100 - d[1]) * 0.65);
    if (broad) pts.push({ x: d[0] - hw * 0.72, y: shoulder });
    pts.push({ x: d[0], y: rowY(r, d[1]) });
    if (broad) pts.push({ x: d[0] + hw * 0.72, y: shoulder });
    pts.push({ x: Math.min(d[0] + hw, xMax), y: top });
  });
  if (pts[pts.length - 1].x < xMax) pts.push({ x: xMax, y: top });
  return { data: pts, borderColor: "#000", borderWidth: 1.2, backgroundColor: "#fff", fill: { value: top }, pointRadius: 0 };
}

function geneSet(g, pxPerKb) {
  const s = g[1], e = g[2], dir = g[3], y = g[5];
  const rot = dir > 0 ? 90 : -90;
  const head = 4.5 / pxPerKb;
  const span = e - s;
  const base = { borderColor: geneColor, backgroundColor: geneColor, pointBackgroundColor: geneColor, pointBorderWidth: 0, pointStyle: "triangle", borderWidth: 4.5, borderCapStyle: "butt", fill: false, clip: false };
  if (span < head * 2.5) {
    return Object.assign(base, { data: [{ x: (s + e) / 2, y: y }], pointRadius: 5, pointRotation: rot });
  }
  const tail = dir > 0 ? s : e, tip = dir > 0 ? e - head : s + head;
  return Object.assign(base, { data: [{ x: tail, y: y }, { x: tip, y: y }], pointRadius: [0, 6], pointRotation: [0, rot] });
}

const annotations = {
  id: "annotations",
  afterDraw: function (chart, args, opts) {
    const ctx = chart.ctx, xs = chart.scales.x, ys = chart.scales.y;
    ctx.save();
    ctx.fillStyle = "#111";
    ctx.font = "20px " + labelFont;
    opts.genes.forEach(function (g) {
      const x = xs.getPixelForValue((g[1] + g[2]) / 2), y = ys.getPixelForValue(g[5]);
      if (g[4] === "v") {
        ctx.save();
        ctx.translate(x, y - 7);
        ctx.rotate(-Math.PI / 2);
        ctx.textAlign = "left";
        ctx.textBaseline = "middle";
        ctx.fillText(g[0], 0, 0);
        ctx.restore();
      } else if (g[4] === "b") {
        ctx.textAlign = "center";
        ctx.textBaseline = "top";
        ctx.fillText(g[0], x, y + 2);
      } else {
        ctx.textAlign = "center";
        ctx.textBaseline = "bottom";
        ctx.fillText(g[0], x, y - 3);
      }
    });
    if (opts.names) {
      ctx.fillStyle = "#111";
      ctx.textAlign = "right";
      ctx.textBaseline = "middle";
      species.forEach(function (name, i) {
        const y = ys.getPixelForValue(i + 0.53);
        const acc = "(" + accessions[i] + ")";
        ctx.font = "bold 23.5px \"Liberation Serif\", serif";
        ctx.fillText(acc, 334, y);
        const w = ctx.measureText(acc).width;
        ctx.font = "italic bold 23.5px \"Liberation Serif\", serif";
        ctx.fillText(name, 334 - w - 10, y);
      });
    }
    ctx.restore();
  }
};

const panels = [
  { canvasTop: 0, top: 132, bottom: 792, left: 337, right: 2179, xMin: 0, xMax: 50, ticks: ticks1, minor: minor1, exons: exons1, utrs: utrs1, gaps: gaps1, dips: dips1, genes: genes1, mid: 25, strip: [-0.4, -0.1], names: true },
  { canvasTop: 815, top: 945, bottom: 1606, left: 344, right: 2184, xMin: 50, xMax: 100, ticks: ticks2, minor: minor2, exons: exons2, utrs: utrs2, gaps: gaps2, dips: dips2, genes: genes2, mid: 75, strip: [-0.35, -0.06] },
  { canvasTop: 1630, top: 1764, bottom: 2426, left: 343, right: 2184, xMin: 100, xMax: 150, ticks: ticks3, minor: minor3, exons: exons3, utrs: utrs3, gaps: gaps3, dips: dips3, genes: genes3, mid: 125, strip: [-0.35, -0.06] },
  { canvasTop: 2440, top: 2572, bottom: 3234, left: 346, right: 560, xMin: 150, xMax: 155.83, ticks: ticks4, minor: minor4, exons: exons4, utrs: utrs4, gaps: gaps4, dips: dips4, genes: genes4, mid: null, strip: [-0.35, -0.06] }
];

const page = document.getElementById("page");

panels.forEach(function (p) {
  const canvas = document.createElement("canvas");
  canvas.width = 2232;
  canvas.height = p.bottom + axisHeight - p.canvasTop;
  canvas.style.top = p.canvasTop + "px";
  page.appendChild(canvas);

  const rowPx = (p.bottom - p.top) / rowCount;
  const yMin = -(p.top - p.canvasTop) / rowPx;
  const pxPerKb = (p.right - p.left) / (p.xMax - p.xMin);

  const datasets = [];
  // frame + the black line at the 25k/75k/125k joint, these stay on top
  [p.xMin, p.xMax].forEach(function (x) {
    datasets.push({ data: [{ x: x, y: 0 }, { x: x, y: rowCount }], borderColor: "#000", borderWidth: 3.5, pointRadius: 0, fill: false, clip: false });
  });
  if (p.mid !== null) {
    datasets.push({ data: [{ x: p.mid, y: 0 }, { x: p.mid, y: rowCount }], borderColor: "#000", borderWidth: 3, pointRadius: 0, fill: false });
  }

  // short black mark at 75% inside the broad gaps
  const midMarks = [];
  p.dips.forEach(function (dips, r) {
    dips.forEach(function (d) {
      if (d[2] >= 0.1 && d[1] <= 60) {
        midMarks.push({ x: d[0] - d[2] * 0.8, y: rowY(r, 75) }, { x: d[0] + d[2] * 0.8, y: rowY(r, 75) }, { x: d[0], y: null });
      }
    });
  });
  if (midMarks.length) datasets.push({ data: midMarks, borderColor: "#000", borderWidth: 1.5, pointRadius: 0, fill: false });

  p.dips.forEach(function (dips, r) { datasets.push(curveSet(r, dips, p.xMin, p.xMax)); });

  // white slits with a small dot at mid row
  const gapDots = [];
  const gapLines = [];
  p.gaps.forEach(function (g) {
    gapLines.push({ x: g, y: 0 }, { x: g, y: rowCount }, { x: g, y: null });
    for (let r = 0; r < rowCount; r++) gapDots.push({ x: g, y: r + 0.5 });
  });
  datasets.push({ data: gapDots, showLine: false, pointRadius: 1, pointBackgroundColor: "#000", pointBorderWidth: 0, fill: false });
  datasets.push({ data: gapLines, borderColor: "#fff", borderWidth: 1.6, pointRadius: 0, fill: false });

  // pale rim at the foot of every row
  const rim = [];
  for (let r = 1; r <= rowCount; r++) {
    rim.push({ x: p.xMin, y: r - 0.085 }, { x: p.xMax, y: r - 0.085 }, { x: p.xMax, y: null });
  }
  datasets.push({ data: rim, borderColor: "rgba(165,175,255,0.55)", borderWidth: 1.5, pointRadius: 0, fill: false });

  datasets.push(fillSet(p.utrs, utrColor, 0, rowCount));
  datasets.push(fillSet(p.exons, exonColor, 0, rowCount));
  datasets.push(fillSet([[p.xMin, p.xMax]], cnsColor, 0, rowCount));

  // annotation strip above the rows
  datasets.push(fillSet(p.utrs, utrColor, p.strip[0], p.strip[1]));
  datasets.push(fillSet(p.exons, exonColor, p.strip[0], p.strip[1]));
  p.genes.forEach(function (g) { datasets.push(geneSet(g, pxPerKb)); });

  const labelled = new Set(p.ticks);
  const xTicks = p.ticks.concat(p.minor).sort(function (a, b) { return a - b; });
  const pctTicks = [];
  for (let r = 0; r < rowCount; r++) {
    pctTicks.push(r === 0 ? 0.03 : r + 0.23, r + 0.78);
  }

  new Chart(canvas, {
    type: "line",
    data: { datasets: datasets },
    plugins: [annotations],
    options: {
      responsive: false,
      animation: false,
      devicePixelRatio: 1,
      events: [],
      layout: { autoPadding: false, padding: { left: p.left, right: 2232 - p.right - pctWidth, top: 0, bottom: 0 } },
      plugins: {
        legend: { display: false },
        tooltip: { enabled: false },
        annotations: { genes: p.genes, names: !!p.names }
      },
      scales: {
        x: {
          type: "linear",
          min: p.xMin,
          max: p.xMax,
          border: { display: false },
          grid: { drawOnChartArea: false, drawTicks: true, tickLength: 6, tickColor: "#000", tickWidth: 1.5 },
          afterBuildTicks: function (s) { s.ticks = xTicks.map(function (v) { return { value: v }; }); },
          afterFit: function (s) { s.height = axisHeight; s.paddingLeft = 0; s.paddingRight = 0; },
          ticks: {
            autoSkip: false,
            maxRotation: 0,
            minRotation: 0,
            padding: 2,
            color: "#111",
            font: { family: labelFont, size: 18 },
            callback: function (v) { return labelled.has(v) ? v + "k" : ""; }
          }
        },
        y: {
          type: "linear",
          reverse: true,
          min: yMin,
          max: rowCount,
          border: { display: false },
          ticks: { display: false, stepSize: 1 },
          grid: {
            z: 1,
            drawTicks: false,
            lineWidth: 4,
            color: function (c) { return c.tick && c.tick.value >= 0 ? "#000" : "transparent"; }
          }
        },
        y2: {
          type: "linear",
          position: "right",
          reverse: true,
          min: yMin,
          max: rowCount,
          border: { display: false },
          grid: { display: false, drawTicks: false },
          afterBuildTicks: function (s) { s.ticks = pctTicks.map(function (v) { return { value: v }; }); },
          afterFit: function (s) { s.width = pctWidth; s.paddingTop = 0; s.paddingBottom = 0; },
          ticks: {
            autoSkip: false,
            padding: 4,
            color: "#111",
            font: { family: labelFont, size: 17 },
            callback: function (v, i) { return i % 2 === 0 ? "100%" : "50%"; }
          }
        }
      }
    }
  });
});

// legend, bottom middle
const legendColors = [exonColor, utrColor, cnsColor, mrnaColor];
const legendTops = [3143, 3166, 3190, 3213];
legendItems.forEach(function (name, i) {
  const sw = document.createElement("div");
  sw.className = "sw";
  sw.style.top = legendTops[i] + "px";
  sw.style.background = legendColors[i];
  page.appendChild(sw);
  const t = document.createElement("div");
  t.className = "lg";
  t.style.top = (legendTops[i] - 2) + "px";
  t.textContent = name;
  page.appendChild(t);
});
const arrow = document.createElement("div");
arrow.className = "sw";
arrow.style.cssText = "top:3123px;left:733px;width:28px;height:14px;background:" + geneColor + ";clip-path:polygon(0 25%,50% 25%,50% 0,100% 50%,50% 100%,50% 75%,0 75%)";
page.appendChild(arrow);
const geneText = document.createElement("div");
geneText.className = "lg";
geneText.style.top = "3118px";
geneText.textContent = "gene";
page.appendChild(geneText);
</script>
</body>
</html>
